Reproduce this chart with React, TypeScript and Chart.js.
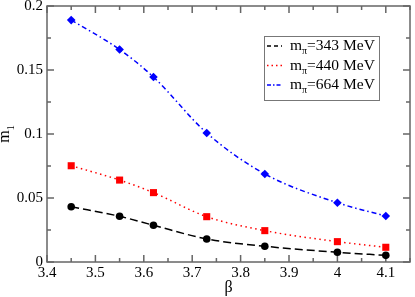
import { useEffect, useRef } from 'react';
import { Chart, registerables } from 'chart.js';

Chart.register(...registerables);

const betaValues = [3.45, 3.55, 3.62, 3.73, 3.85, 4.0, 4.1];
const m343 = [0.0432, 0.0357, 0.0287, 0.018, 0.0123, 0.0076, 0.0052];
const m440 = [0.0752, 0.064, 0.0542, 0.0354, 0.0245, 0.0159, 0.0115];
const m664 = [0.189, 0.166, 0.1445, 0.1008, 0.0688, 0.0463, 0.0359];
const seriesMasses = ['=343 MeV', '=440 MeV', '=664 MeV'];
const xMajorTicks = [3.4, 3.5, 3.6, 3.7, 3.8, 3.9, 4.0, 4.1];
const xMinorTicks = [3.45, 3.55, 3.65, 3.75, 3.85, 3.95, 4.05, 4.15];
const yMajorTicks = [0, 0.05, 0.1, 0.15, 0.2];
const yMinorTicks = [0.025, 0.075, 0.125, 0.175];

const FONT = '"Liberation Serif", "Times New Roman", serif';
const colors = ['#000000', '#ff0000', '#0000ff'];
const dashes = [[8, 4], [1.5, 3.5], [5, 3, 1.5, 3]];
const legendDashes = [[4, 3], [1.5, 3], [4, 2, 1.5, 2]];

const fmt = (v: number) => String(Math.round(v * 1000) / 1000);

const framePlugin = {
  id: 'frameTicks',
  beforeDatasetsDraw(chart: any) {
    const { ctx, chartArea: a, scales } = chart;
    const xs = scales.x;
    const ys = scales.y;
    ctx.save();
    ctx.strokeStyle = '#666';
    ctx.lineWidth = 1.5;
    ctx.beginPath();
    const tick = (len: number, vals: number[], horiz: boolean) => {
      vals.forEach((v) => {
        if (horiz) {
          const px = xs.getPixelForValue(v);
          ctx.moveTo(px, a.bottom);
          ctx.lineTo(px, a.bottom - len);
          ctx.moveTo(px, a.top);
          ctx.lineTo(px, a.top + len);
        } else {
          const py = ys.getPixelForValue(v);
          ctx.moveTo(a.left, py);
          ctx.lineTo(a.left + len, py);
          ctx.moveTo(a.right, py);
          ctx.lineTo(a.right - len, py);
        }
      });
    };
    tick(7, xMajorTicks, true);
    tick(4, xMinorTicks, true);
    tick(7, yMajorTicks, false);
    tick(4, yMinorTicks, false);
    ctx.stroke();
    ctx.strokeRect(a.left, a.top, a.right - a.left, a.bottom - a.top);

    // axis titles
    ctx.fillStyle = '#000';
    ctx.textAlign = 'center';
    ctx.textBaseline = 'alphabetic';
    ctx.font = `16px ${FONT}`;
    ctx.fillText('β', (a.left + a.right) / 2, 292);

    ctx.save();
    const cy = (a.top + a.bottom) / 2;
    ctx.translate(9, cy);
    ctx.rotate(-Math.PI / 2);
    ctx.font = `16px ${FONT}`;
    const mw = ctx.measureText('m').width;
    ctx.font = `10px ${FONT}`;
    const sw = ctx.measureText('1').width;
    const start = -(mw + sw) / 2;
    ctx.textAlign = 'left';
    ctx.font = `16px ${FONT}`;
    ctx.fillText('m', start, 0);
    ctx.font = `10px ${FONT}`;
    ctx.fillText('1', start + mw, 5);
    ctx.restore();
    ctx.restore();
  },
  afterDraw(chart: any) {
    const { ctx, chartArea: a } = chart;
    ctx.save();
    const bx = a.right - 146;
    const by = a.top + 30;
    ctx.fillStyle = '#fff';
    ctx.fillRect(bx, by, 116, 64);
    ctx.strokeStyle = '#777';
    ctx.lineWidth = 1;
    ctx.strokeRect(bx + 0.5, by + 0.5, 115, 64);
    seriesMasses.forEach((label, i) => {
      const base = by + 14 + i * 19.5;
      ctx.strokeStyle = colors[i];
      ctx.lineWidth = 1.5;
      ctx.setLineDash(legendDashes[i]);
      ctx.beginPath();
      ctx.moveTo(bx + 3, base - 4);
      ctx.lineTo(bx + 18, base - 4);
      ctx.stroke();
      ctx.setLineDash([]);
      ctx.fillStyle = '#000';
      ctx.textAlign = 'left';
      ctx.textBaseline = 'alphabetic';
      let x = bx + 26;
      ctx.font = `15.5px ${FONT}`;
      ctx.fillText('m', x, base);
      x += ctx.measureText('m').width;
      ctx.font = `10px ${FONT}`;
      ctx.fillText('π', x, base + 4);
      x += ctx.measureText('π').width;
      ctx.font = `15.5px ${FONT}`;
      ctx.fillText(label, x, base);
    });
    ctx.restore();
  },
};

export default function App() {
  const ref = useRef<HTMLCanvasElement>(null);
  useEffect(() => {
    document.body.style.margin = '0';
    const mk = (vals: number[]) => betaValues.map((b, i) => ({ x: b, y: vals[i] }));
    const styles = ['circle', 'rect', 'rectRot'];
    const radii = [3.8, 5, 4.3];
    const series = [m343, m440, m664];
    const chart = new Chart(ref.current as HTMLCanvasElement, {
      type: 'line',
      data: {
        datasets: series.map((vals, i) => ({
          label: 'm' + seriesMasses[i],
          data: mk(vals),
          borderColor: colors[i],
          backgroundColor: colors[i],
          borderWidth: 1.5,
          borderDash: dashes[i],
          pointStyle: styles[i] as any,
          pointRadius: radii[i],
          pointBorderWidth: 0,
          pointBackgroundColor: colors[i],
          cubicInterpolationMode: 'monotone' as const,
          fill: false,
        })),
      },
      options: {
        animation: false,
        responsive: false,
        devicePixelRatio: 1,
        layout: { padding: { top: 6, right: 2, left: 0, bottom: 0 } },
        plugins: { legend: { display: false }, tooltip: { enabled: false } },
        scales: {
          x: {
            type: 'linear',
            min: 3.4,
            max: 4.15,
            grid: { display: false, drawTicks: false },
            border: { display: false },
            afterBuildTicks: (s: any) => {
              s.ticks = xMajorTicks.map((v) => ({ value: v }));
            },
            afterFit: (s: any) => {
              s.height = 35;
              s.paddingLeft = 0;
              s.paddingRight = 0;
            },
            ticks: {
              color: '#000',
              padding: 2,
              maxRotation: 0,
              font: { family: FONT, size: 15 },
              callback: (v: any) => fmt(Number(v)),
            },
          },
          y: {
            type: 'linear',
            min: 0,
            max: 0.2,
            grid: { display: false, drawTicks: false },
            border: { display: false },
            afterBuildTicks: (s: any) => {
              s.ticks = yMajorTicks.map((v) => ({ value: v }));
            },
            afterFit: (s: any) => {
              s.width = 47;
              s.paddingTop = 0;
              s.paddingBottom = 0;
            },
            ticks: {
              color: '#000',
              padding: 4,
              font: { family: FONT, size: 15 },
              callback: (v: any) => fmt(Number(v)),
            },
          },
        },
      },
      plugins: [framePlugin],
    });
    return () => chart.destroy();
  }, []);
  return (
    <div style={{ width: 415, height: 297 }}>
      <canvas ref={ref} width={415} height={297} style={{ display: 'block' }} />
    </div>
  );
}
